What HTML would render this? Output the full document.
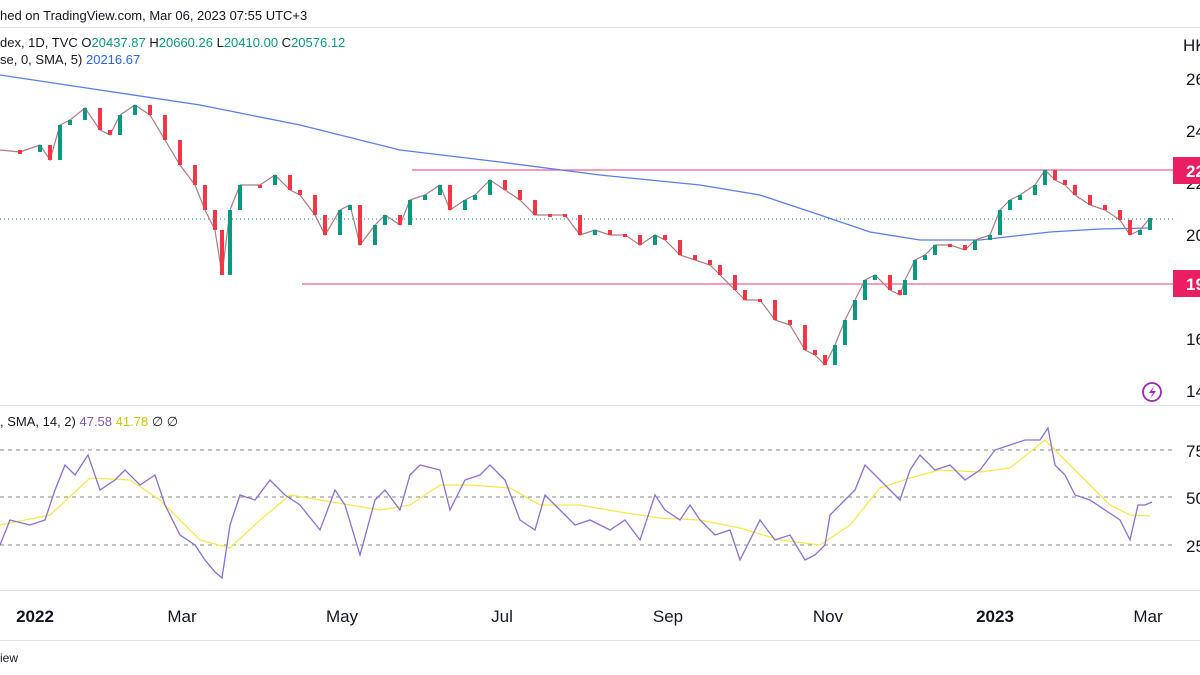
<!DOCTYPE html>
<html><head><meta charset="utf-8"><style>
body{margin:0;width:1200px;height:675px;overflow:hidden;background:#fff;font-family:"Liberation Sans",sans-serif;}
svg{position:absolute;left:0;top:0}
</style></head><body>
<svg width="1200" height="675" xmlns="http://www.w3.org/2000/svg" font-family="Liberation Sans, sans-serif">
<line x1="0" y1="27.5" x2="1200" y2="27.5" stroke="#e0e3eb"/>
<text x="0" y="20" font-size="13" fill="#131722">hed on TradingView.com, Mar 06, 2023 07:55 UTC+3</text>
<text x="0" y="47" font-size="13" fill="#131722">dex, 1D, TVC  O<tspan fill="#089981">20437.87</tspan>  H<tspan fill="#089981">20660.26</tspan>  L<tspan fill="#089981">20410.00</tspan>  C<tspan fill="#089981">20576.12</tspan></text>
<text x="0" y="64" font-size="13" fill="#131722">se, 0, SMA, 5)  <tspan fill="#2962ff">20216.67</tspan></text>
<text x="0" y="426" font-size="13" fill="#131722">, SMA, 14, 2)  <tspan fill="#7e57c2">47.58</tspan>  <tspan fill="#d4c400">41.78</tspan>  ∅  ∅</text>
<line x1="0" y1="405.5" x2="1200" y2="405.5" stroke="#e0e3eb"/>
<line x1="0" y1="590.5" x2="1200" y2="590.5" stroke="#e0e3eb"/>
<line x1="0" y1="640.5" x2="1200" y2="640.5" stroke="#e0e3eb"/>
<line x1="0" y1="450" x2="1173" y2="450" stroke="#888" stroke-dasharray="4,4"/>
<line x1="0" y1="497" x2="1173" y2="497" stroke="#888" stroke-dasharray="4,4"/>
<line x1="0" y1="545" x2="1173" y2="545" stroke="#888" stroke-dasharray="4,4"/>
<line x1="0" y1="219" x2="1173" y2="219" stroke="#089981" stroke-dasharray="1,3"/>
<line x1="412" y1="170" x2="1173" y2="170" stroke="#f06292" stroke-width="1.3"/>
<line x1="302" y1="284" x2="1173" y2="284" stroke="#f06292" stroke-width="1.3"/>

<polyline fill="none" stroke="#5b7cf0" stroke-width="1.3" points="0,75 100,90 200,105 300,125 400,150 500,162 600,175 700,185 760,195 820,215 870,232 920,240 980,240 1050,232 1100,229 1150,228"/>

<polyline fill="none" stroke="#b07a80" stroke-width="1.2" points="0,150 20,152 40,145 50,160 60,125 70,120 85,108 100,130 110,135 120,115 135,105 150,115 165,140 180,165 195,185 205,210 215,230 222,275 230,210 240,185 260,185 275,175 290,190 300,195 315,215 325,235 340,210 350,205 360,245 375,225 385,215 400,225 410,200 425,195 440,185 450,210 465,200 475,195 490,180 505,190 520,200 535,215 550,215 565,215 580,235 595,230 610,235 625,235 640,245 655,235 665,240 680,255 695,260 710,265 720,275 735,290 745,300 760,300 775,320 790,325 805,350 815,355 825,365 835,345 845,320 855,300 865,280 875,275 890,290 900,295 905,280 915,260 925,255 935,245 950,245 965,250 975,240 990,235 1000,210 1010,200 1020,195 1035,185 1045,170 1055,180 1065,185 1075,195 1090,205 1105,210 1120,220 1130,235 1140,230 1150,218"/>

<path fill="#f23645" d="M18 150h4v4h-4z M48 145h4v15h-4z M98 108h4v22h-4z M108 130h4v5h-4z M148 105h4v10h-4z M163 115h4v25h-4z M178 140h4v25h-4z M193 165h4v20h-4z M203 185h4v25h-4z M213 210h4v20h-4z M220 230h4v45h-4z M258 185h4v3h-4z M288 175h4v15h-4z M298 190h4v5h-4z M313 195h4v20h-4z M323 215h4v20h-4z M358 205h4v40h-4z M398 215h4v10h-4z M448 185h4v25h-4z M503 180h4v10h-4z M518 190h4v10h-4z M533 200h4v15h-4z M548 214h4v3h-4z M563 214h4v3h-4z M578 215h4v20h-4z M608 230h4v5h-4z M623 234h4v3h-4z M638 235h4v10h-4z M663 235h4v5h-4z M678 240h4v15h-4z M693 255h4v5h-4z M708 260h4v5h-4z M718 265h4v10h-4z M733 275h4v15h-4z M743 290h4v10h-4z M758 299h4v3h-4z M773 300h4v20h-4z M788 320h4v5h-4z M803 325h4v25h-4z M813 350h4v5h-4z M823 355h4v10h-4z M888 275h4v15h-4z M898 290h4v5h-4z M948 244h4v3h-4z M963 245h4v5h-4z M1053 170h4v10h-4z M1063 180h4v5h-4z M1073 185h4v10h-4z M1088 195h4v10h-4z M1103 205h4v5h-4z M1118 210h4v10h-4z M1128 220h4v15h-4z"/>
<path fill="#089981" d="M38 145h4v7h-4z M58 125h4v35h-4z M68 120h4v5h-4z M83 108h4v12h-4z M118 115h4v20h-4z M133 105h4v10h-4z M228 210h4v65h-4z M238 185h4v25h-4z M273 175h4v10h-4z M338 210h4v25h-4z M348 205h4v5h-4z M373 225h4v20h-4z M383 215h4v10h-4z M408 200h4v25h-4z M423 195h4v5h-4z M438 185h4v10h-4z M463 200h4v10h-4z M473 195h4v5h-4z M488 180h4v15h-4z M593 230h4v5h-4z M653 235h4v10h-4z M833 345h4v20h-4z M843 320h4v25h-4z M853 300h4v20h-4z M863 280h4v20h-4z M873 275h4v5h-4z M903 280h4v15h-4z M913 260h4v20h-4z M923 255h4v5h-4z M933 245h4v10h-4z M973 240h4v10h-4z M988 235h4v5h-4z M998 210h4v25h-4z M1008 200h4v10h-4z M1018 195h4v5h-4z M1033 185h4v10h-4z M1043 170h4v15h-4z M1138 230h4v5h-4z M1148 218h4v12h-4z"/>

<polyline fill="none" stroke="#f5e94a" stroke-width="1.3" points="0,525 50,515 90,478 130,480 160,500 200,540 230,548 260,520 290,495 320,500 350,505 380,510 410,505 440,485 470,485 510,488 540,505 580,505 620,512 660,518 700,520 740,528 780,540 820,545 850,525 880,488 910,478 940,470 980,472 1010,468 1045,440 1080,475 1110,505 1130,515 1150,516"/>
<polyline fill="none" stroke="#8c6fd6" stroke-width="1.3" points="0,545 10,520 30,525 45,520 55,490 65,465 75,475 88,455 100,490 115,480 125,470 140,485 155,475 165,505 180,535 195,545 205,560 215,572 222,578 230,525 240,495 255,500 270,480 285,495 300,505 320,530 335,490 345,505 360,555 375,500 385,490 400,510 410,475 420,465 440,470 450,510 465,480 480,475 490,465 505,480 520,520 535,530 545,495 560,510 575,525 590,520 610,530 625,520 640,540 655,495 665,510 680,520 690,505 700,520 715,535 730,530 740,560 750,540 760,520 775,540 790,535 805,560 815,555 825,545 830,515 845,500 855,490 865,465 875,475 890,490 900,500 910,470 920,455 935,470 950,465 965,480 980,470 995,450 1010,445 1025,440 1040,440 1048,428 1055,465 1065,475 1075,495 1090,500 1105,510 1120,520 1130,540 1138,505 1145,505 1152,502"/>

<g font-size="17" fill="#131722">
<text x="1183" y="51">HK</text>
<text x="1186" y="85">26</text><text x="1186" y="137">24</text><text x="1186" y="189">22</text>
<text x="1186" y="241">20</text><text x="1186" y="293">18</text><text x="1186" y="345">16</text><text x="1186" y="397">14</text>
<text x="1186" y="457">75</text><text x="1186" y="504">50</text><text x="1186" y="552">25</text>
</g>
<rect x="1173" y="157" width="27" height="27" fill="#e91e63"/><text x="1186" y="177" font-size="17" font-weight="bold" fill="#fff">22</text>
<rect x="1173" y="270" width="27" height="27" fill="#e91e63"/><text x="1186" y="290" font-size="17" font-weight="bold" fill="#fff">19</text>
<circle cx="1152" cy="392" r="9" fill="none" stroke="#9c27b0" stroke-width="1.8"/>
<path d="M1154 386 L1149 393 L1153 393 L1150 399 L1156 391 L1152 391 Z" fill="#9c27b0"/>
<g font-size="17" fill="#131722" text-anchor="middle">
<text x="35" y="622" font-weight="bold">2022</text><text x="182" y="622">Mar</text><text x="342" y="622">May</text>
<text x="502" y="622">Jul</text><text x="668" y="622">Sep</text><text x="828" y="622">Nov</text>
<text x="995" y="622" font-weight="bold">2023</text><text x="1148" y="622">Mar</text>
</g>
<text x="0" y="662" font-size="12" fill="#131722">iew</text>
</svg>
</body></html>
